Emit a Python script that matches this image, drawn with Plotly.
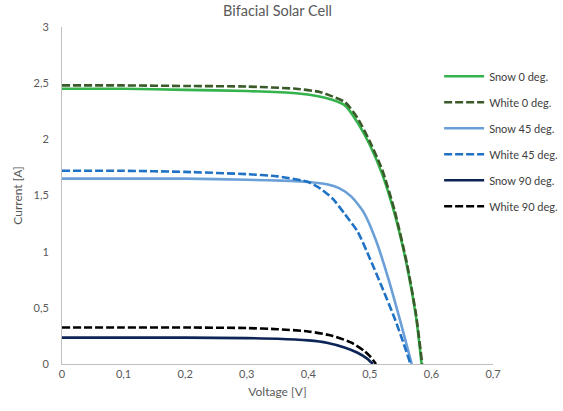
import plotly.graph_objects as go

# Voltage [V] / Current [A] data
v_snow0 = [0, 0.1, 0.2, 0.3, 0.38, 0.42, 0.44, 0.46, 0.48, 0.50, 0.52, 0.54, 0.56, 0.575, 0.584]
i_snow0 = [2.45, 2.45, 2.44, 2.43, 2.41, 2.38, 2.35, 2.30, 2.15, 1.95, 1.69, 1.34, 0.88, 0.42, 0.0]

v_white0 = [0, 0.1, 0.2, 0.3, 0.38, 0.42, 0.44, 0.46, 0.48, 0.50, 0.52, 0.54, 0.56, 0.575, 0.585]
i_white0 = [2.48, 2.48, 2.475, 2.47, 2.45, 2.42, 2.38, 2.33, 2.19, 1.98, 1.73, 1.37, 0.90, 0.44, 0.0]

v_snow45 = [0, 0.1, 0.2, 0.3, 0.37, 0.40, 0.43, 0.45, 0.47, 0.49, 0.51, 0.53, 0.55, 0.568]
i_snow45 = [1.65, 1.65, 1.65, 1.64, 1.63, 1.62, 1.60, 1.565, 1.49, 1.35, 1.10, 0.76, 0.37, 0.0]

v_white45 = [0, 0.1, 0.2, 0.3, 0.35, 0.40, 0.42, 0.44, 0.46, 0.48, 0.50, 0.52, 0.54, 0.555, 0.566]
i_white45 = [1.72, 1.72, 1.71, 1.69, 1.67, 1.62, 1.56, 1.47, 1.33, 1.18, 0.94, 0.68, 0.41, 0.18, 0.0]

v_snow90 = [0, 0.1, 0.2, 0.3, 0.35, 0.40, 0.43, 0.46, 0.48, 0.495, 0.505]
i_snow90 = [0.235, 0.235, 0.235, 0.23, 0.225, 0.21, 0.19, 0.145, 0.10, 0.05, 0.0]

v_white90 = [0, 0.1, 0.2, 0.3, 0.35, 0.40, 0.44, 0.47, 0.49, 0.50, 0.51]
i_white90 = [0.325, 0.325, 0.325, 0.32, 0.31, 0.29, 0.25, 0.19, 0.12, 0.07, 0.0]

series = [
    ("Snow 0 deg.", v_snow0, i_snow0, "#34B24C", "solid"),
    ("White 0 deg.", v_white0, i_white0, "#3A5A2A", "8px,3px"),
    ("Snow 45 deg.", v_snow45, i_snow45, "#6A9FD8", "solid"),
    ("White 45 deg.", v_white45, i_white45, "#1F72C4", "8px,3px"),
    ("Snow 90 deg.", v_snow90, i_snow90, "#0D2457", "solid"),
    ("White 90 deg.", v_white90, i_white90, "#000000", "8px,3px"),
]

x_ticks = [0, 0.1, 0.2, 0.3, 0.4, 0.5, 0.6, 0.7]
y_ticks = [0, 0.5, 1, 1.5, 2, 2.5, 3]

fig = go.Figure()
for k, (name, v, i, color, dash) in enumerate(series):
    fig.add_trace(go.Scatter(
        x=v, y=i, name=name, mode="lines", legendgroup=f"g{k}",
        line=dict(color=color, width=2.6, dash=dash, shape="spline", smoothing=0.6),
    ))

font_family = "Lato, 'Open Sans', sans-serif"
fig.update_layout(
    width=563, height=411,
    margin=dict(l=62, r=70, t=27, b=47, autoexpand=False),
    paper_bgcolor="white", plot_bgcolor="white",
    separators=", ",
    font=dict(family=font_family, color="#595959", size=11),
    title=dict(text="Bifacial Solar Cell", x=0.5, xanchor="center", xref="paper",
               y=0.985, yanchor="top", font=dict(size=14.5, color="#595959")),
    legend=dict(x=0.875, xanchor="left", y=0.897, yanchor="top",
                traceorder="grouped", tracegroupgap=7, itemwidth=40,
                font=dict(size=11, color="#404040"), bgcolor="rgba(0,0,0,0)"),
    showlegend=True,
)
fig.update_xaxes(
    range=[0, 0.7], tickvals=x_ticks, ticktext=[str(t).replace(".", ",") for t in x_ticks],
    showgrid=False, zeroline=False, showline=True, linecolor="#BFBFBF", linewidth=1,
    ticks="", title=dict(text="Voltage [V]", font=dict(size=12, color="#595959"), standoff=8),
)
fig.update_yaxes(
    range=[0, 3], tickvals=y_ticks, ticktext=[str(t).replace(".", ",") for t in y_ticks],
    showgrid=False, zeroline=False, showline=True, linecolor="#BFBFBF", linewidth=1,
    ticks="", ticklabelstandoff=10,
    title=dict(text="Current [A]", font=dict(size=12, color="#595959"), standoff=8),
)

fig.write_html("out.html")
